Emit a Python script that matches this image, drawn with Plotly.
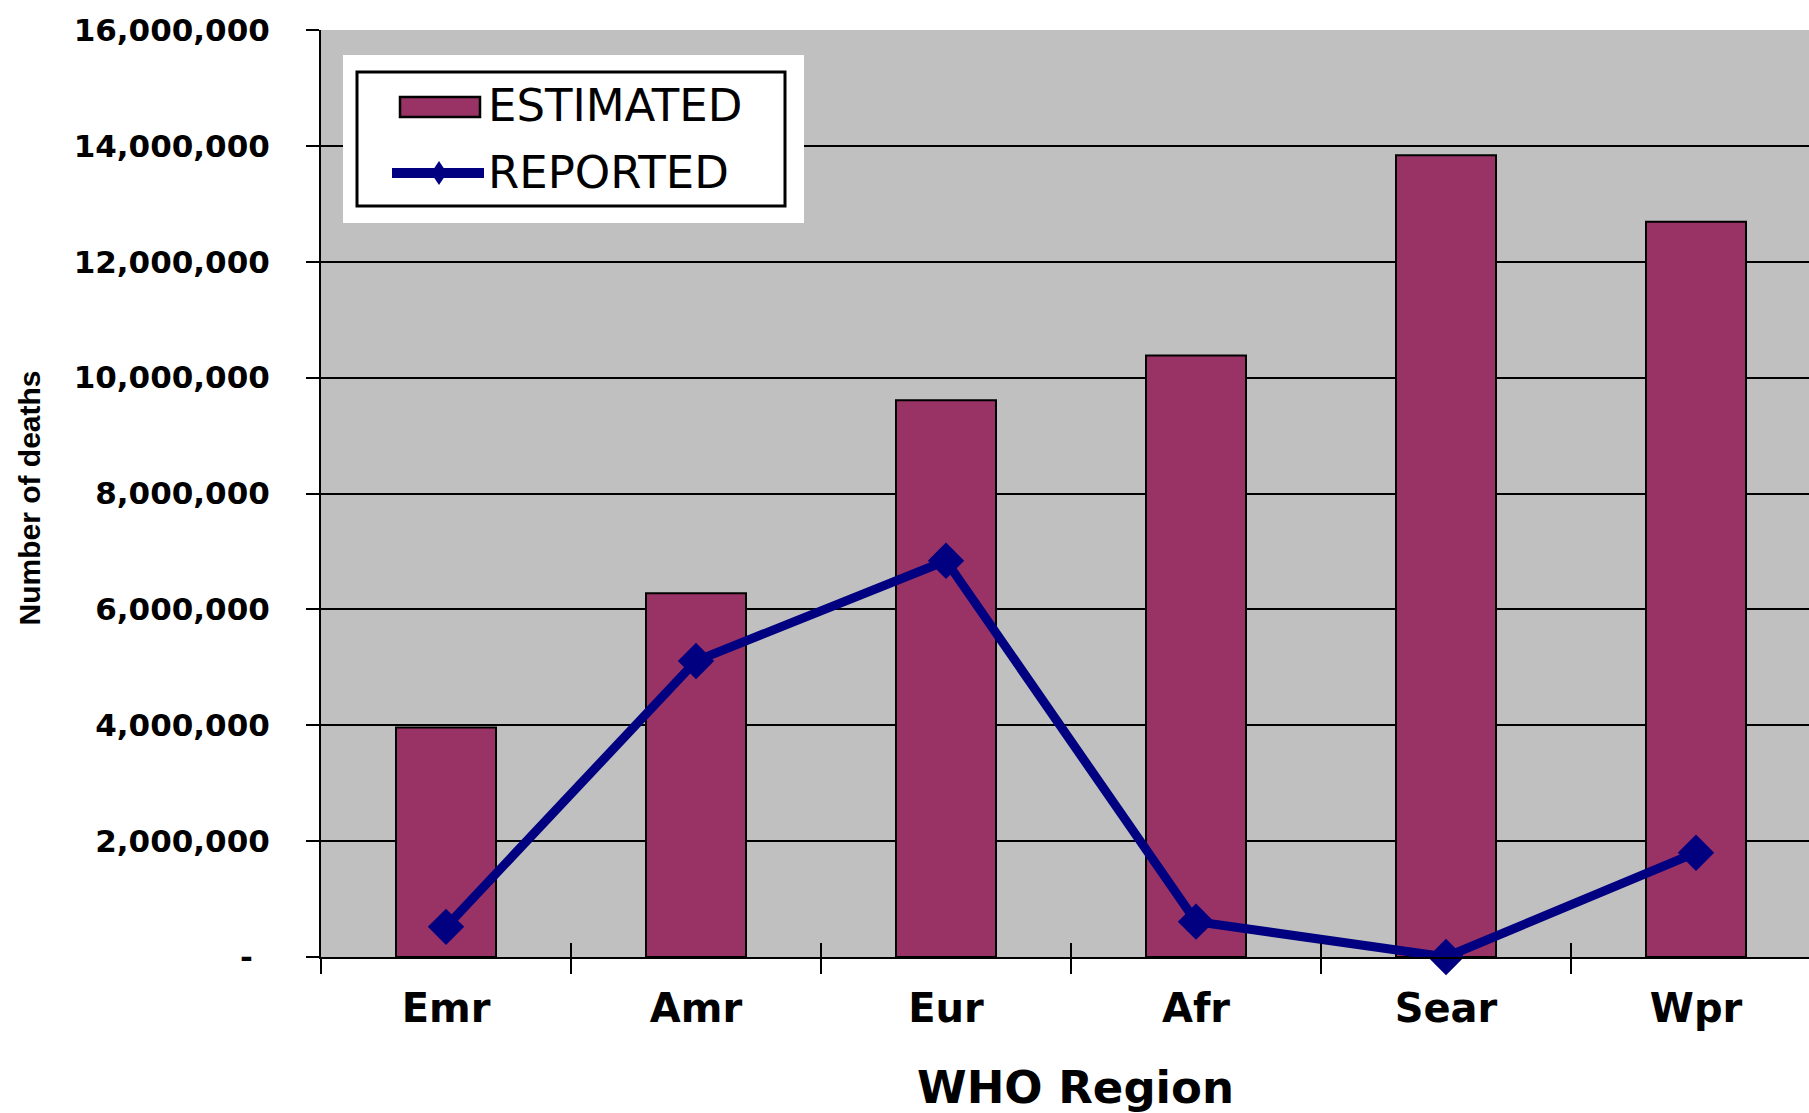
import plotly.graph_objects as go

# ---- data ----
regions = ["Emr", "Amr", "Eur", "Afr", "Sear", "Wpr"]
estimated = [3960000, 6280000, 9610000, 10380000, 13840000, 12690000]
reported = [520000, 5110000, 6840000, 610000, 0, 1800000]
y_tick_vals = [0, 2000000, 4000000, 6000000, 8000000, 10000000, 12000000, 14000000, 16000000]
y_tick_text = ["-\u00a0\u2009", "2,000,000", "4,000,000", "6,000,000", "8,000,000",
               "10,000,000", "12,000,000", "14,000,000", "16,000,000"]
series_names = ["ESTIMATED", "REPORTED"]
x_title = "WHO Region"
y_title = "Number of deaths"

# ---- geometry / style ----
W, H = 1809, 1113
ML, MR, MT, MB = 321, 0, 30, 156
PW, PH = W - ML - MR, H - MT - MB
BAR_COLOR = "#993366"
LINE_COLOR = "#000080"
FONT = "DejaVu Sans"


def px(x):
    return (x - ML) / PW


def py(y):
    return (H - MB - y) / PH


fig = go.Figure()
fig.add_trace(go.Bar(
    x=regions, y=estimated, name=series_names[0], width=0.4,
    marker=dict(color=BAR_COLOR, line=dict(color="black", width=2)),
))
fig.add_trace(go.Scatter(
    x=regions, y=reported, name=series_names[1], mode="lines+markers",
    line=dict(color=LINE_COLOR, width=9),
    marker=dict(symbol="diamond", size=28, color=LINE_COLOR),
    cliponaxis=False,
))
# invisible helper trace to carry the inside halves of the category boundary ticks
fig.add_trace(go.Scatter(
    x=regions, y=reported, xaxis="x2", mode="markers",
    marker=dict(opacity=0), hoverinfo="skip", showlegend=False,
))

x_range = [-0.5, -0.5 + PW / 250.0]

fig.update_layout(
    width=W, height=H,
    margin=dict(l=ML, r=MR, t=MT, b=MB, pad=0),
    paper_bgcolor="white", plot_bgcolor="#C0C0C0",
    showlegend=False,
    font=dict(family=FONT, color="black"),
    xaxis=dict(
        type="category", range=x_range,
        ticks="outside", tickson="boundaries", ticklen=15, tickwidth=2, tickcolor="black",
        showline=True, linecolor="black", linewidth=2,
        showgrid=False, zeroline=False,
        tickfont=dict(family=FONT, size=40, color="black", weight="bold"),
        ticklabelstandoff=15,
    ),
    xaxis2=dict(
        type="category", range=x_range, overlaying="x", anchor="y", side="bottom",
        ticks="inside", tickson="boundaries", ticklen=14, tickwidth=2, tickcolor="black",
        showticklabels=False, showgrid=False, showline=False, zeroline=False,
    ),
    yaxis=dict(
        range=[0, 16000000], tickmode="array", tickvals=y_tick_vals, ticktext=y_tick_text,
        ticks="outside", ticklen=13, tickwidth=2, tickcolor="black",
        showline=True, linecolor="black", linewidth=2,
        showgrid=True, gridcolor="black", gridwidth=2, zeroline=False,
        tickfont=dict(family=FONT, size=31, color="black", weight="bold"),
        ticklabelstandoff=30,
    ),
)

# axis titles
fig.add_annotation(
    text=x_title, xref="paper", yref="paper", x=px(1075), y=py(1087),
    xanchor="center", yanchor="middle", showarrow=False,
    font=dict(family=FONT, size=45, color="black", weight="bold"),
)
fig.add_annotation(
    text=y_title, xref="paper", yref="paper", x=px(28.5), y=py(498),
    xanchor="center", yanchor="middle", showarrow=False, textangle=-90,
    font=dict(family="Liberation Sans", size=30, color="black", weight="bold"),
)

# ---- legend (drawn manually to match swatch sizes) ----
shapes = [
    dict(type="rect", xref="paper", yref="paper", x0=px(343), x1=px(804), y0=py(55), y1=py(223),
         fillcolor="white", line=dict(width=0), layer="above"),
    dict(type="rect", xref="paper", yref="paper", x0=px(357), x1=px(785), y0=py(72), y1=py(206),
         fillcolor="white", line=dict(color="black", width=3), layer="above"),
    dict(type="rect", xref="paper", yref="paper", x0=px(400), x1=px(480), y0=py(97), y1=py(117),
         fillcolor=BAR_COLOR, line=dict(color="black", width=2.5), layer="above"),
    dict(type="line", xref="paper", yref="paper", x0=px(392), x1=px(484), y0=py(173), y1=py(173),
         line=dict(color=LINE_COLOR, width=10), layer="above"),
]
fig.update_layout(shapes=shapes)
# small diamond on the legend line
fig.add_shape(
    type="path", xref="paper", yref="paper", layer="above",
    path="M {a},{b} L {c},{d} L {e},{b} L {c},{f} Z".format(
        a=px(431), b=py(173), c=px(439), d=py(161), e=px(447), f=py(185)),
    fillcolor=LINE_COLOR, line=dict(width=0),
)
for name, ycen in zip(series_names, [106, 172]):
    fig.add_annotation(
        text=name, xref="paper", yref="paper", x=px(486), y=py(ycen),
        xanchor="left", yanchor="middle", showarrow=False,
        font=dict(family=FONT, size=45, color="black"),
    )

fig.write_html("out.html")
